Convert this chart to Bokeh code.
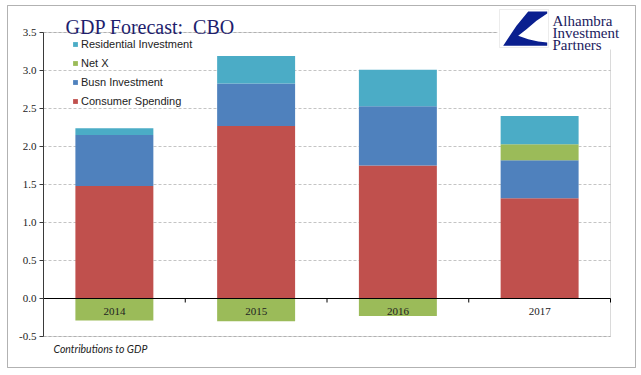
from bokeh.plotting import figure
from bokeh.models import (ColumnDataSource, Range1d, FixedTicker, NumeralTickFormatter,
                          Label, Legend, LegendItem, BoxAnnotation, PolyAnnotation)
from bokeh.core.properties import value
from bokeh.embed import file_html
from bokeh.resources import INLINE

# ---- data ----
years = ["2014", "2015", "2016", "2017"]
consumer_spending = [1.48, 2.27, 1.75, 1.32]
busn_investment = [0.67, 0.56, 0.78, 0.50]
net_x = [-0.29, -0.30, -0.23, 0.21]
residential_investment = [0.09, 0.36, 0.48, 0.37]
y_ticks = [-0.5, 0.0, 0.5, 1.0, 1.5, 2.0, 2.5, 3.0, 3.5]

series_names = ["Consumer Spending", "Busn Investment", "Net X", "Residential Investment"]
series_vals = [consumer_spending, busn_investment, net_x, residential_investment]
series_colors = ["#C0504D", "#4F81BD", "#9BBB59", "#4BACC6"]

# ---- geometry (canvas pixels) ----
W, H = 636, 368
FL, FR, FT, FB = 43, 610, 32, 336   # plot-area edges
Y0, Y1 = -0.5, 3.5
ppu_y = (FB - FT) / (Y1 - Y0)
ppu_x = (FR - FL) / len(years)

def dx(px):
    return (px - FL) / ppu_x

def dy(py):
    return Y1 - (py - FT) / ppu_y

p = figure(width=W, height=H, output_backend="svg", toolbar_location=None,
           x_range=Range1d(dx(0), dx(W)), y_range=Range1d(dy(H), dy(0)),
           x_axis_location=None, min_border=0)
p.outline_line_color = None
p.xgrid.grid_line_color = None
p.ygrid.grid_line_color = "#C4C4C4"
p.ygrid.grid_line_dash = "3 2"
p.ygrid.ticker = FixedTicker(ticks=y_ticks)
p.ygrid.cross_bounds = (0, len(years))

yax = p.yaxis[0]
yax.fixed_location = 0
yax.bounds = (Y0, Y1)
yax.ticker = FixedTicker(ticks=y_ticks)
yax.formatter = NumeralTickFormatter(format="0.0")
yax.axis_line_color = "#3A3A3A"
yax.major_tick_line_color = "#3A3A3A"
yax.major_tick_out = 4
yax.major_tick_in = 0
yax.minor_tick_line_color = None
yax.major_label_text_font = "Liberation Serif"
yax.major_label_text_font_size = "11px"
yax.major_label_text_color = "#222222"
yax.major_label_standoff = 3

# ---- stacked bars (positives up, negatives down) ----
xs = [i + 0.5 for i in range(len(years))]
pos_base = [0.0] * len(years)
neg_base = [0.0] * len(years)
renderers = {}
for name, vals, col in zip(series_names, series_vals, series_colors):
    bottoms, tops = [], []
    for i, v in enumerate(vals):
        if v >= 0:
            bottoms.append(pos_base[i]); tops.append(pos_base[i] + v); pos_base[i] += v
        else:
            tops.append(neg_base[i]); bottoms.append(neg_base[i] + v); neg_base[i] += v
    src = ColumnDataSource(dict(x=xs, bottom=bottoms, top=tops))
    renderers[name] = p.vbar(x="x", bottom="bottom", top="top", width=0.55, source=src,
                             fill_color=col, line_color=None)

# plot-area border
p.add_layout(BoxAnnotation(left=0, right=len(years), bottom=Y0, top=Y1, fill_alpha=0,
                           line_color="#868686", line_width=1, level="underlay"))

# zero line and category ticks
p.segment(x0=[0], x1=[len(years)], y0=[0], y1=[0], line_color="black", line_width=1)
bx = list(range(1, len(years) + 1))
p.segment(x0=bx, x1=bx, y0=[0] * len(bx), y1=[-4 / ppu_y] * len(bx), line_color="black", line_width=1)
p.text(x=xs, y=[0] * len(years), text=years, text_align="center", text_baseline="middle",
       y_offset=13, text_font=value("Liberation Serif"), text_font_size="11px", text_color="#222222")

# legend
legend_order = ["Residential Investment", "Net X", "Busn Investment", "Consumer Spending"]
legend = Legend(items=[LegendItem(label=n, renderers=[renderers[n]]) for n in legend_order],
                location=(72, 261), orientation="vertical", border_line_color=None,
                background_fill_alpha=0, padding=0, margin=0, spacing=6,
                glyph_width=6, glyph_height=6, label_height=13, label_standoff=3,
                label_text_font="Liberation Sans", label_text_font_size="11px",
                label_text_color="#222222")
p.add_layout(legend)

# title
p.add_layout(Label(x=dx(65), y=dy(26.5), text="GDP Forecast:\u00a0 CBO", text_font="Liberation Serif",
                   text_font_size="20px", text_color="#1E1E6E", text_baseline="alphabetic"))

# logo
p.add_layout(BoxAnnotation(left=dx(497), right=dx(628), top=dy(8), bottom=dy(49),
                           fill_color="white", fill_alpha=1, line_color=None))
p.add_layout(BoxAnnotation(left=dx(499), right=dx(548), top=dy(9), bottom=dy(47),
                           fill_color="white", fill_alpha=1, line_color="#C0C0C0", line_width=1))
logo_px = [(527.7, 11), (546.7, 11), (546.7, 13), (536, 20.3), (526, 28.7), (517.7, 35.3),
           (527.7, 38.7), (537.7, 41), (546.7, 42), (546.7, 45.3), (502.7, 45.3), (509.3, 35.3),
           (516, 25.3)]
p.add_layout(PolyAnnotation(xs=[dx(a) for a, b in logo_px], ys=[dy(b) for a, b in logo_px],
                            fill_color="#0A1F8F", fill_alpha=1, line_color=None))
for txt, base in [("Alhambra", 20.5), ("Investment", 32.5), ("Partners", 44.5)]:
    p.add_layout(Label(x=dx(552), y=dy(base), text=txt, text_font="Liberation Serif",
                       text_font_size="15px", text_color="#1B1B5E", text_baseline="alphabetic"))

# footnote
p.add_layout(Label(x=dx(53), y=dy(348), text="Contributions to GDP", text_font="Lato",
                   text_font_style="italic", text_font_size="10.5px", text_color="#222222",
                   text_baseline="middle"))

# outer border
p.add_layout(BoxAnnotation(left=dx(7), right=dx(635), top=dy(5), bottom=dy(367), fill_alpha=0,
                           line_color="black", line_width=1))

open("out.html", "w").write(file_html(p, INLINE))
